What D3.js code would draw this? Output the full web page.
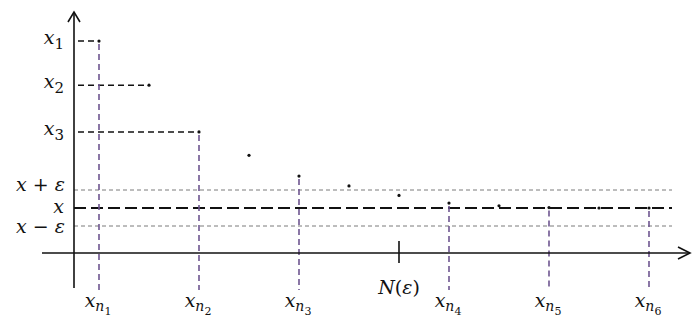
<!DOCTYPE html>
<html>
<head>
<meta charset="utf-8">
<script src="https://cdn.jsdelivr.net/npm/d3@7"></script>
<style>
  body { margin: 0; background: #fff; }
  text { font-family: "DejaVu Serif", "Liberation Serif", serif; fill: #111; }
</style>
</head>
<body>
<div id="chart"></div>
<script>
// sequence x_n, n = 1..12 (limit x = 1, arbitrary units)
var seqIndex = [1, 2, 3, 4, 5, 6, 7, 8, 9, 10, 11, 12];
var seqValues = [4.71, 3.73, 2.69, 2.17, 1.71, 1.49, 1.28, 1.11, 1.05, 1.01, 1.0, 1.0];
var limitValue = 1.0;
var epsilon = 0.4;
var nEpsilon = 7;
// which terms get the x_{n_k} marks
var subIndex = [1, 3, 5, 8, 10, 12];
var subLabels = ["1", "2", "3", "4", "5", "6"];
// the terms labelled on the y axis
var namedTerms = [1, 2, 3];

var width = 700, height = 326;
var purple = "#6e5590";

var svg = d3.select("#chart").append("svg")
    .attr("width", width)
    .attr("height", height);

var xScale = d3.scaleLinear().domain([0, 13]).range([49, 699]);
var yScale = d3.scaleLinear().domain([0, 5]).range([253, 28]);

var axisX = xScale(0.5);
var axisY = yScale(0);

function addLine(x1, y1, x2, y2, stroke, w, dash) {
    return svg.append("line")
        .attr("x1", x1).attr("y1", y1)
        .attr("x2", x2).attr("y2", y2)
        .attr("stroke", stroke)
        .attr("stroke-width", w)
        .attr("stroke-dasharray", dash || null);
}

// writes a math label built from tspans (italic letters, subscripts)
function addMathLabel(x, y, anchor, parts) {
    var t = svg.append("text")
        .attr("x", x).attr("y", y)
        .attr("text-anchor", anchor)
        .attr("font-size", 19);
    parts.forEach(function (p) {
        t.append("tspan")
            .attr("font-style", p.italic ? "italic" : "normal")
            .attr("font-size", p.size || 19)
            .attr("dy", p.dy || 0)
            .attr("dx", p.dx || 0)
            .text(p.text);
    });
    return t;
}

// epsilon band and limit line
var xEnd = xScale(12.46);
addLine(axisX, yScale(limitValue + epsilon), xEnd, yScale(limitValue + epsilon), "#7a7a7a", 1, "4,3");
addLine(axisX, yScale(limitValue - epsilon), xEnd, yScale(limitValue - epsilon), "#7a7a7a", 1, "4,3");
addLine(axisX, yScale(limitValue), xEnd, yScale(limitValue), "#111", 2, "12,5");

// dashed lines from y axis to the first terms
namedTerms.forEach(function (n) {
    var v = seqValues[n - 1];
    addLine(axisX + 4, yScale(v), xScale(n), yScale(v), "#111", 1.5, "6,4");
});

// vertical marks for the subsequence
subIndex.forEach(function (n) {
    var v = seqValues[n - 1];
    addLine(xScale(n), yScale(v) + 3, xScale(n), 290, purple, 1.6, "6,4");
});

// axes
addLine(axisX, 12, axisX, 288, "#111", 1.6);
addLine(42, axisY, 690, axisY, "#111", 1.6);
svg.append("path")
    .attr("d", "M" + (axisX - 6) + ",22 L" + axisX + ",12 L" + (axisX + 6) + ",22")
    .attr("fill", "none").attr("stroke", "#111").attr("stroke-width", 1.6);
svg.append("path")
    .attr("d", "M678," + (axisY - 6) + " L690," + axisY + " L678," + (axisY + 6))
    .attr("fill", "none").attr("stroke", "#111").attr("stroke-width", 1.6);

// N(eps) tick
addLine(xScale(nEpsilon), axisY - 12, xScale(nEpsilon), axisY + 10, "#111", 1.6);
addMathLabel(xScale(nEpsilon), 294, "middle", [
    { text: "N", italic: true },
    { text: "(" },
    { text: "ε", italic: true },
    { text: ")" }
]);

// sequence points
svg.append("g").selectAll("circle")
    .data(seqValues)
    .enter().append("circle")
    .attr("cx", function (d, i) { return xScale(seqIndex[i]); })
    .attr("cy", function (d) { return yScale(d); })
    .attr("r", 1.6)
    .attr("fill", "#111");

// y-axis labels
namedTerms.forEach(function (n) {
    var v = seqValues[n - 1];
    addMathLabel(64, yScale(v) + 3, "end", [
        { text: "x", italic: true },
        { text: String(n), size: 15, dy: 5 }
    ]);
});
addMathLabel(65, yScale(limitValue + epsilon) + 1, "end", [
    { text: "x", italic: true },
    { text: " + " },
    { text: "ε", italic: true }
]);
addMathLabel(64, yScale(limitValue) + 5, "end", [{ text: "x", italic: true }]);
addMathLabel(65, yScale(limitValue - epsilon) + 7, "end", [
    { text: "x", italic: true },
    { text: " − " },
    { text: "ε", italic: true }
]);

// subsequence labels
subIndex.forEach(function (n, k) {
    addMathLabel(xScale(n) - 1, 307, "middle", [
        { text: "x", italic: true },
        { text: "n", italic: true, size: 14, dy: 4 },
        { text: subLabels[k], size: 11, dy: 4 }
    ]);
});
</script>
</body>
</html>
